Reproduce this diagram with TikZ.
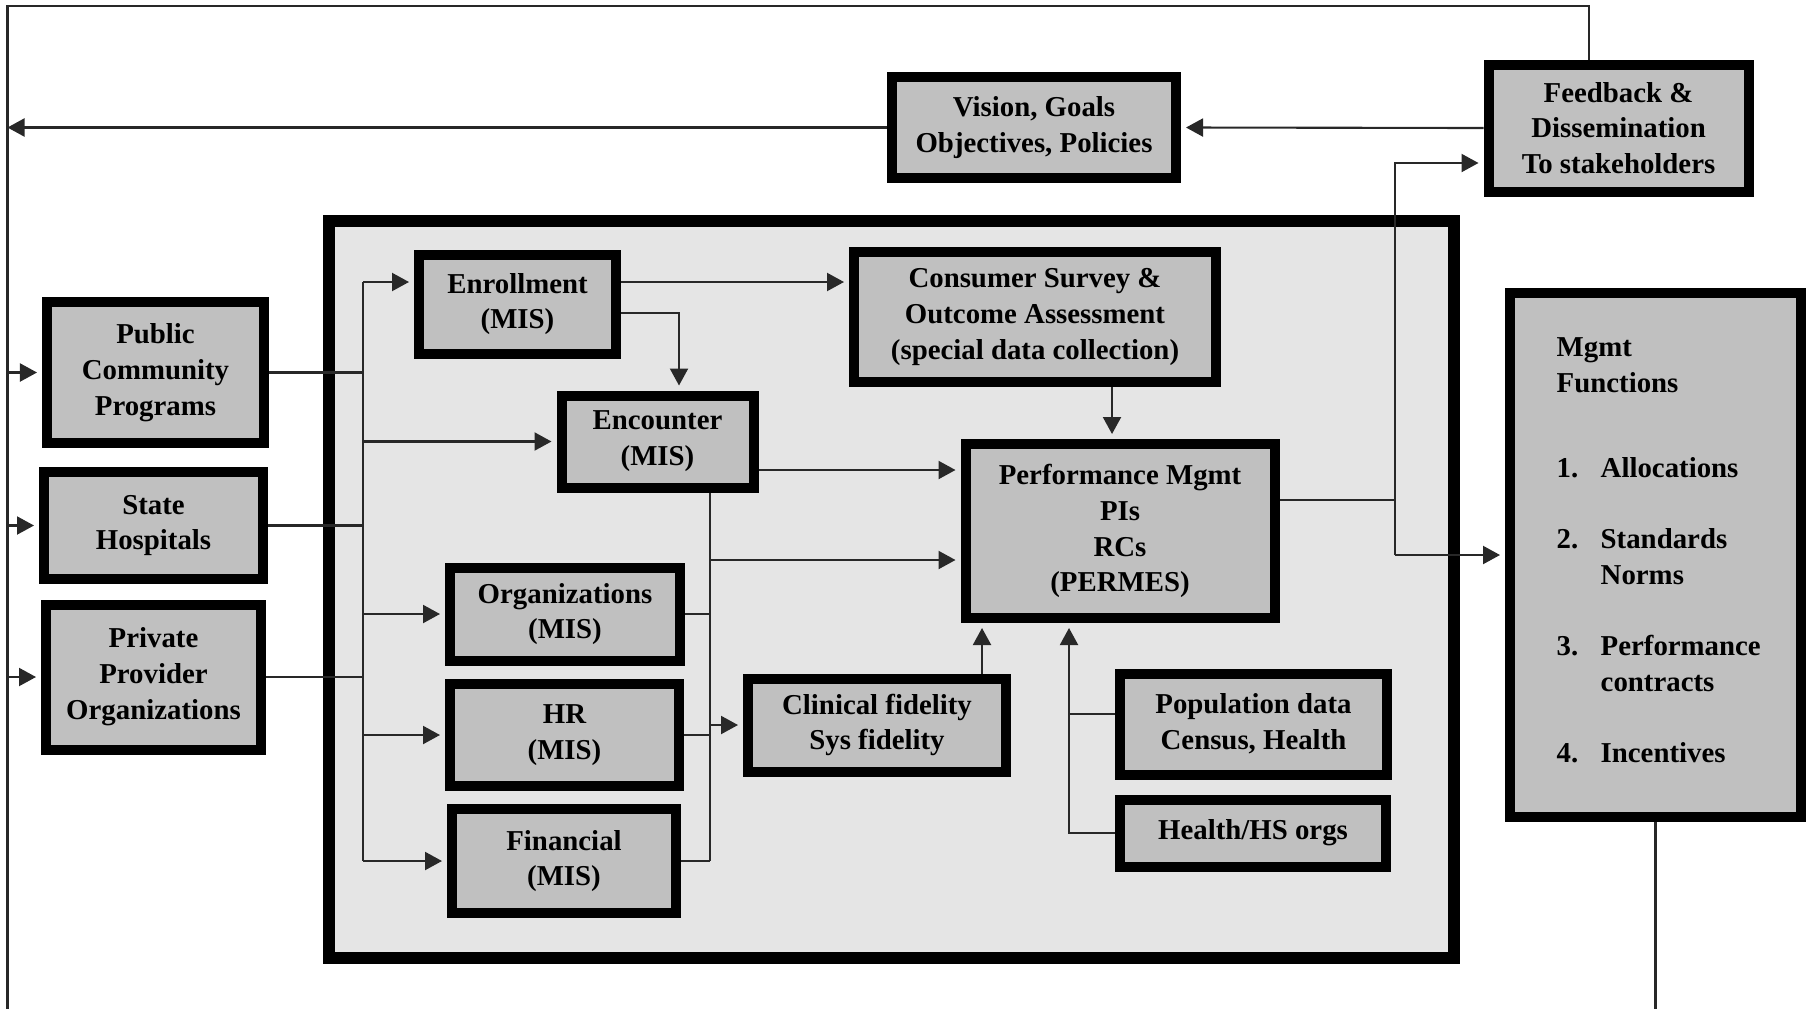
\documentclass[tikz,border=0pt]{standalone}
\usepackage{fontspec}
\setmainfont{Liberation Serif}
\usetikzlibrary{arrows.meta, positioning, calc}
\definecolor{boxgray}{RGB}{192, 192, 192}
\definecolor{panelgray}{RGB}{229, 229, 229}
\definecolor{linegray}{RGB}{40, 40, 40}

\tikzset{
  blkbox/.style={draw=black, line width=1mm, fill=boxgray, align=center, inner sep=0pt, font=\fontsize{8.2}{10.2}\selectfont\bfseries},
  listtext/.style={align=left, inner sep=0pt, font=\fontsize{8.2}{10.2}\selectfont\bfseries},
  conn/.style={draw=linegray, line width=0.6pt},
  arr/.style={conn, -{Triangle[length=1.7mm, width=1.8mm]}, shorten >=0.5mm},
}

\begin{document}
\begin{tikzpicture}
  \useasboundingbox (0, 0) rectangle (18.11, 10.09);

  % Data panel
  \node[draw=black, line width=1.2mm, fill=panelgray, minimum width=11.25cm, minimum height=7.37cm] (panel) at (8.915, 4.195) {};

  % Top row
  \node[blkbox, minimum width=2.84cm, minimum height=1.01cm] (vision) at (10.34, 8.815) {Vision, Goals\\Objectives, Policies};
  \node[blkbox, minimum width=2.60cm, minimum height=1.27cm] (feedback) at (16.185, 8.81) {Feedback \&\\Dissemination\\To stakeholders};

  % Providers
  \node[blkbox, minimum width=2.17cm, minimum height=1.41cm] (public) at (1.555, 6.365) {Public\\Community\\Programs};
  \node[blkbox, minimum width=2.19cm, minimum height=1.07cm] (state) at (1.535, 4.835) {State\\Hospitals};
  \node[blkbox, minimum width=2.15cm, minimum height=1.45cm] (private) at (1.535, 3.32) {Private\\Provider\\Organizations};

  % MIS sources
  \node[blkbox, minimum width=1.97cm, minimum height=0.99cm] (enroll) at (5.175, 7.05) {Enrollment\\(MIS)};
  \node[blkbox, minimum width=1.92cm, minimum height=0.92cm] (encounter) at (6.575, 5.675) {Encounter\\(MIS)};
  \node[blkbox, minimum width=2.30cm, minimum height=0.93cm] (orgs) at (5.65, 3.95) {Organizations\\(MIS)};
  \node[blkbox, minimum width=2.29cm, minimum height=1.02cm] (hr) at (5.645, 2.74) {HR\\(MIS)};
  \node[blkbox, minimum width=2.24cm, minimum height=1.04cm] (financial) at (5.64, 1.48) {Financial\\(MIS)};

  % Other data
  \node[blkbox, minimum width=3.62cm, minimum height=1.30cm] (survey) at (10.35, 6.92) {Consumer Survey \&\\Outcome Assessment\\(special data collection)};
  \node[blkbox, minimum width=3.09cm, minimum height=1.74cm] (perf) at (11.20, 4.78) {Performance Mgmt\\PIs\\RCs\\(PERMES)};
  \node[blkbox, minimum width=2.58cm, minimum height=0.93cm] (clinical) at (8.77, 2.84) {Clinical fidelity\\Sys fidelity};
  \node[blkbox, minimum width=2.67cm, minimum height=1.01cm] (population) at (12.535, 2.85) {Population data\\Census, Health};
  \node[blkbox, minimum width=2.66cm, minimum height=0.67cm] (healthorgs) at (12.53, 1.76) {Health/HS orgs};

  % Management functions
  \node[blkbox, minimum width=2.91cm, minimum height=5.24cm] (mgmt) at (16.555, 4.54) {};
  \node[listtext, anchor=north west] (mgmtlist) at (15.56, 6.72) {Mgmt\\Functions\\[14pt]
    \makebox[4.4mm][l]{1.}Allocations\\[10pt]
    \makebox[4.4mm][l]{2.}Standards\\\hspace*{4.4mm}Norms\\[10pt]
    \makebox[4.4mm][l]{3.}Performance\\\hspace*{4.4mm}contracts\\[10pt]
    \makebox[4.4mm][l]{4.}Incentives};

  \coordinate (loopTL) at (0.075, 10.03);
  \coordinate (loopBL) at (0.075, 0);
  \coordinate (bus1) at (3.63, 7.27);
  \coordinate (bus2) at (7.10, 4.49);
  \coordinate (pin) at (11.12, 6.0);
  \coordinate (fidup) at (9.82, 2.84);
  \coordinate (popup) at (10.69, 1.76);
  \coordinate (outbus) at (13.95, 5.09);
  \coordinate (encout) at ([yshift=-0.285cm]encounter.east);
  \coordinate (popout) at ([yshift=0.1cm]population.west);
  \coordinate (fbin) at ([yshift=-0.35cm]feedback.west);

  % Outer loop
  \draw[conn] ([xshift=-0.295cm]feedback.north) |- (loopTL) -- (loopBL);
  \draw[conn] (mgmt.south) -- (mgmt.south |- loopBL);
  \draw[arr] (feedback.west) -- (vision.east);
  \draw[arr, shorten >=0pt] (vision.west) -- (vision.west -| loopTL);
  \foreach \b in {public, state, private}
    \draw[arr] (loopTL |- \b.west) -- (\b.west);
  \foreach \b in {public, state, private}
    \draw[conn] (\b.east) -- (\b.east -| bus1);

  % Bus into MIS
  \draw[conn] (bus1) -- (bus1 |- financial.west);
  \draw[arr] (bus1) -- (bus1 -| enroll.west);
  \foreach \b in {encounter, orgs, hr, financial}
    \draw[arr] (bus1 |- \b.west) -- (\b.west);

  % Enrollment and encounter
  \draw[arr] (bus1 -| enroll.east) -- (bus1 -| survey.west);
  \draw[arr] ([yshift=-0.09cm]enroll.east) -| ([xshift=0.215cm]encounter.north);
  \draw[arr] (survey.south -| pin) -- (perf.north -| pin);
  \draw[arr] (encout) -- (encout -| perf.west);

  % Bus into PERMES
  \draw[conn] (encounter.south -| bus2) -- (bus2 |- financial.east);
  \draw[arr] (bus2) -- (bus2 -| perf.west);
  \foreach \b in {orgs, hr, financial}
    \draw[conn] (\b.east) -- (\b.east -| bus2);
  \draw[arr] (bus2 |- clinical.west) -- (clinical.west);

  \draw[arr] (clinical.north -| fidup) -- (perf.south -| fidup);
  \draw[arr] (healthorgs.west) -| (perf.south -| popup);
  \draw[conn] (popout) -- (popout -| popup);

  % Outputs
  \draw[conn] (outbus -| perf.east) -- (outbus);
  \draw[arr] (outbus |- mgmt.west) |- (fbin);
  \draw[arr] (outbus |- mgmt.west) -- (mgmt.west);
\end{tikzpicture}
\end{document}
